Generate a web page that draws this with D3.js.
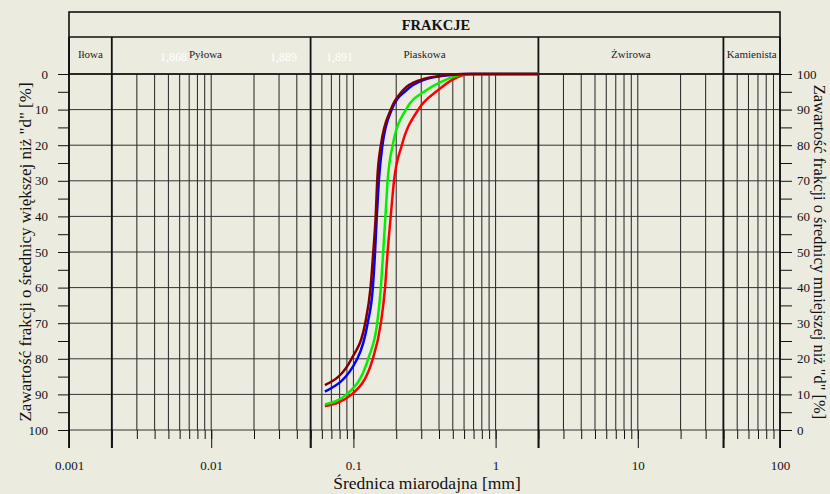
<!DOCTYPE html>
<html>
<head>
<meta charset="utf-8">
<script src="https://cdn.jsdelivr.net/npm/d3@7"></script>
<style>
  body { margin: 0; background: #ecebe0; }
  svg, svg text { font-family: "Liberation Serif", "Times New Roman", "DejaVu Serif", serif; }
  .tick text { font-size: 13px; fill: #111; }
  .tick line { stroke: #111; }
</style>
</head>
<body>
<script>
// fractions (mm)
const fractionBounds = [0.001, 0.002, 0.05, 2, 40, 100];
const fractionNames = ["Iłowa", "Pyłowa", "Piaskowa", "Żwirowa", "Kamienista"];
const hiddenLabels = ["1,868", "1,889", "1,891"];

const xTickLabels = [0.001, 0.01, 0.1, 1, 10, 100];
const yTicks = [0, 10, 20, 30, 40, 50, 60, 70, 80, 90, 100];
const yMinor = [5, 15, 25, 35, 45, 55, 65, 75, 85, 95];

// grading curves: diameter [mm] vs. passing [%]
const sampleColors = ["#ff0000", "#00f000", "#0000ff", "#800000"];
const redD   = [0.063, 0.0973, 0.137, 0.156, 0.167, 0.174, 0.183, 0.193, 0.219, 0.286, 0.395, 0.491, 0.593, 0.661, 2];
const redP   = [6.7, 10, 20, 30, 40, 50, 60, 70, 80, 90, 95.5, 98.3, 99.7, 100, 100];
const greenD = [0.063, 0.0897, 0.127, 0.147, 0.156, 0.162, 0.168, 0.174, 0.189, 0.234, 0.328, 0.441, 0.562, 0.736, 2];
const greenP = [7.2, 10, 20, 30, 40, 50, 60, 70, 80, 90, 95.5, 98.3, 99.7, 100, 100];
const blueD  = [0.063, 0.1065, 0.126, 0.137, 0.142, 0.146, 0.151, 0.160, 0.186, 0.237, 0.31, 0.478, 0.626, 2];
const blueP  = [10.8, 20, 30, 40, 50, 60, 70, 80, 90, 95.5, 98.3, 99.7, 100, 100];
const brownD = [0.063, 0.097, 0.121, 0.132, 0.138, 0.1435, 0.147, 0.156, 0.183, 0.224, 0.294, 0.453, 0.593, 2];
const brownP = [12.6, 20, 30, 40, 50, 60, 70, 80, 90, 95.5, 98.3, 99.7, 100, 100];

const series = [[redD, redP], [greenD, greenP], [blueD, blueP], [brownD, brownP]];

const W = 830, H = 494;
const pLeft = 69, pRight = 780, pTop = 74, pBottom = 430;
const headTop = 12, headMid = 37;
const serif = "'Liberation Serif', 'Times New Roman', 'DejaVu Serif', serif";

const svg = d3.select("body").append("svg")
    .attr("width", W)
    .attr("height", H)
    .attr("font-family", serif);

const x = d3.scaleLog().domain([0.001, 100]).range([pLeft, pRight]);
const yLeft = d3.scaleLinear().domain([0, 100]).range([pTop, pBottom]);
const yRight = d3.scaleLinear().domain([0, 100]).range([pBottom, pTop]);

// all 1..9 x 10^k values
const minorX = [];
for (let k = -3; k <= 1; k++) {
    for (let m = 1; m <= 9; m++) minorX.push(+(m * Math.pow(10, k)).toPrecision(3));
}
minorX.push(100);
const longX = xTickLabels.concat(fractionBounds.slice(1, -1));

// d3 axes put sans-serif on their group, drop it
function cleanAxis(g) {
    g.attr("font-family", serif).attr("font-size", 13);
    g.select(".domain").remove();
}

// vertical grid
svg.append("g").selectAll("line")
    .data(minorX)
    .enter().append("line")
    .attr("x1", d => x(d)).attr("x2", d => x(d))
    .attr("y1", pTop).attr("y2", pBottom)
    .attr("stroke", "#222")
    .attr("stroke-width", 1);

// horizontal grid
svg.append("g").selectAll("line")
    .data(yTicks)
    .enter().append("line")
    .attr("x1", pLeft).attr("x2", pRight)
    .attr("y1", d => yLeft(d)).attr("y2", d => yLeft(d))
    .attr("stroke", "#333")
    .attr("stroke-width", 1);

// bottom axis: short minor ticks, long ticks with labels
svg.append("g")
    .attr("transform", `translate(0,${pBottom})`)
    .call(d3.axisBottom(x).tickValues(minorX).tickSize(9).tickFormat(""))
    .call(cleanAxis);

svg.append("g")
    .attr("transform", `translate(0,${pBottom})`)
    .call(d3.axisBottom(x).tickValues(longX).tickSize(18).tickPadding(13)
        .tickFormat(d => xTickLabels.includes(d) ? String(d) : ""))
    .call(cleanAxis);

// left axis
svg.append("g")
    .attr("transform", `translate(${pLeft},0)`)
    .call(d3.axisLeft(yLeft).tickValues(yMinor).tickSize(11).tickFormat(""))
    .call(cleanAxis);
svg.append("g")
    .attr("transform", `translate(${pLeft},0)`)
    .call(d3.axisLeft(yLeft).tickValues(yTicks).tickSize(11).tickPadding(10))
    .call(cleanAxis);

// right axis
svg.append("g")
    .attr("transform", `translate(${pRight},0)`)
    .call(d3.axisRight(yRight).tickValues(yMinor).tickSize(12).tickFormat(""))
    .call(cleanAxis);
svg.append("g")
    .attr("transform", `translate(${pRight},0)`)
    .call(d3.axisRight(yRight).tickValues(yTicks).tickSize(12).tickPadding(5))
    .call(cleanAxis);

// header box
const head = svg.append("g");
head.append("rect")
    .attr("x", pLeft).attr("y", headTop)
    .attr("width", pRight - pLeft).attr("height", pTop - headTop)
    .attr("fill", "none").attr("stroke", "#111").attr("stroke-width", 1.6);
head.append("line")
    .attr("x1", pLeft).attr("x2", pRight)
    .attr("y1", headMid).attr("y2", headMid)
    .attr("stroke", "#111").attr("stroke-width", 1.4);
head.append("text")
    .attr("x", 436).attr("y", 30)
    .attr("text-anchor", "middle")
    .attr("font-size", 14.5).attr("font-weight", "bold")
    .attr("fill", "#111")
    .text("FRAKCJE");

// fraction boundary lines (thick)
svg.append("g").selectAll("line")
    .data(fractionBounds)
    .enter().append("line")
    .attr("x1", d => x(d)).attr("x2", d => x(d))
    .attr("y1", headMid).attr("y2", pBottom + 18)
    .attr("stroke", "#111")
    .attr("stroke-width", 1.8);

// faint white labels in the header (pixel spots)
const hiddenX = [187, 270, 326];
const hiddenAnchor = ["end", "start", "start"];
head.selectAll("text.hid")
    .data(hiddenLabels)
    .enter().append("text")
    .attr("class", "hid")
    .attr("x", (d, i) => hiddenX[i])
    .attr("y", 61)
    .attr("text-anchor", (d, i) => hiddenAnchor[i])
    .attr("font-size", 12)
    .attr("fill", "#ffffff")
    .text(d => d);

// fraction names
head.selectAll("text.frac")
    .data(fractionNames)
    .enter().append("text")
    .attr("class", "frac")
    .attr("x", (d, i) => i === 1 ? 189 : (x(fractionBounds[i]) + x(fractionBounds[i + 1])) / 2)
    .attr("y", 58)
    .attr("text-anchor", (d, i) => i === 1 ? "start" : "middle")
    .attr("font-size", 11)
    .attr("fill", "#222")
    .text(d => d);

// curves
const line = d3.line()
    .x(d => x(d[0]))
    .y(d => yRight(d[1]))
    .curve(d3.curveMonotoneX);

svg.append("g").selectAll("path")
    .data(series)
    .enter().append("path")
    .attr("d", s => line(d3.zip(s[0], s[1])))
    .attr("fill", "none")
    .attr("stroke", (s, i) => sampleColors[i])
    .attr("stroke-width", 2.5);

// axis titles
svg.append("text")
    .attr("transform", `translate(31,${(pTop + pBottom) / 2}) rotate(-90)`)
    .attr("text-anchor", "middle")
    .attr("font-size", 17)
    .attr("fill", "#111")
    .text("Zawartość  frakcji o średnicy większej niż \"d\" [%]");

svg.append("text")
    .attr("transform", `translate(814,${(pTop + pBottom) / 2}) rotate(90)`)
    .attr("text-anchor", "middle")
    .attr("font-size", 16.5)
    .attr("fill", "#111")
    .text("Zawartość frakcji o średnicy mniejszej niż \"d\" [%]");

svg.append("text")
    .attr("x", 427).attr("y", 489)
    .attr("text-anchor", "middle")
    .attr("font-size", 17.5)
    .attr("fill", "#111")
    .text("Średnica miarodajna [mm]");
</script>
</body>
</html>
